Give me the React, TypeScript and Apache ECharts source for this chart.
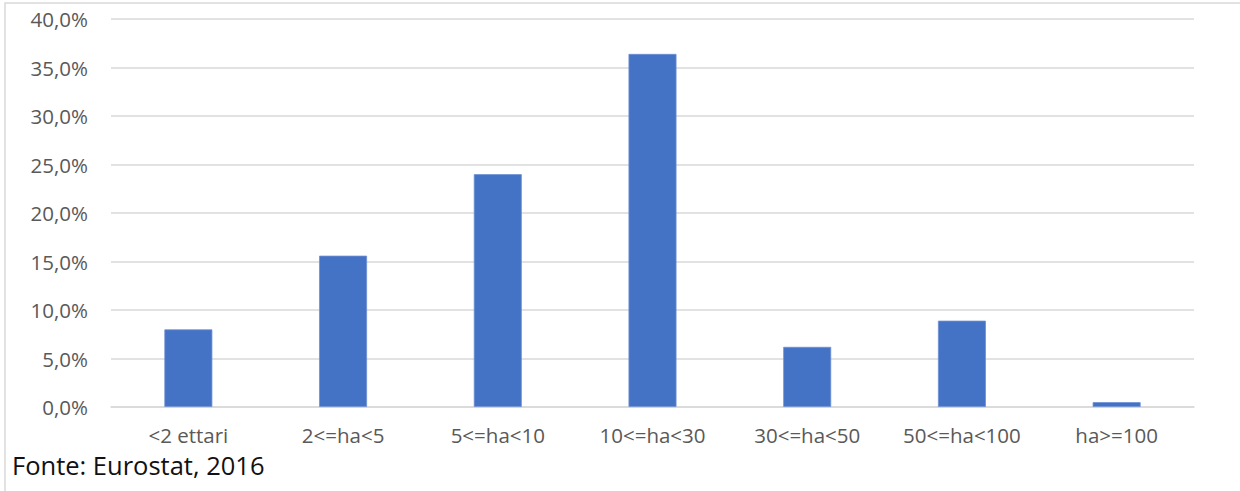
import React, { useEffect, useRef } from "react";
import * as echarts from "echarts";

const categories = ["<2 ettari", "2<=ha<5", "5<=ha<10", "10<=ha<30", "30<=ha<50", "50<=ha<100", "ha>=100"];
const values = [8.0, 15.6, 24.0, 36.4, 6.2, 8.9, 0.5];
const yMin = 0;
const yMax = 40;
const yStep = 5;
const sourceText = "Fonte: Eurostat, 2016";

export default function App() {
  const ref = useRef<HTMLDivElement>(null);
  useEffect(() => {
    if (!ref.current) return;
    const chart = echarts.init(ref.current, null, { renderer: "svg" });
    chart.setOption({
      animation: false,
      backgroundColor: "#ffffff",
      textStyle: { fontFamily: "Open Sans" },
      grid: { left: 111, right: 46, top: 19, bottom: 84 },
      xAxis: {
        type: "category",
        data: categories,
        axisLine: { lineStyle: { color: "#d9d9d9", width: 1.5 } },
        axisTick: { show: false },
        axisLabel: { color: "#595959", fontSize: 20.5, margin: 17, fontFamily: "Open Sans" },
      },
      yAxis: {
        type: "value",
        min: yMin,
        max: yMax,
        interval: yStep,
        axisLine: { show: false },
        axisTick: { show: false },
        splitLine: { lineStyle: { color: "#d9d9d9", width: 1.5 } },
        axisLabel: {
          color: "#595959",
          fontSize: 20.5,
          margin: 23,
          fontFamily: "Open Sans",
          formatter: (v: number) => v.toFixed(1).replace(".", ",") + "%",
        },
      },
      series: [
        {
          type: "bar",
          data: values,
          barWidth: "31%",
          itemStyle: { color: "#4472C4", borderColor: "#6f91d3", borderWidth: 0.8 },
        },
      ],
      graphic: [
        {
          type: "rect",
          shape: { x: 5, y: 3, width: 1300, height: 600 },
          style: { fill: "none", stroke: "#d9d9d9", lineWidth: 1.5 },
          silent: true,
        },
        {
          type: "text",
          left: 12,
          top: 452,
          style: { text: sourceText, fill: "#111111", fontSize: 25.5, fontFamily: "Open Sans" },
        },
      ],
    });
    return () => chart.dispose();
  }, []);
  return (
    <div
      ref={ref}
      style={{ position: "absolute", left: 0, top: 0, width: 1240, height: 491 }}
    />
  );
}
